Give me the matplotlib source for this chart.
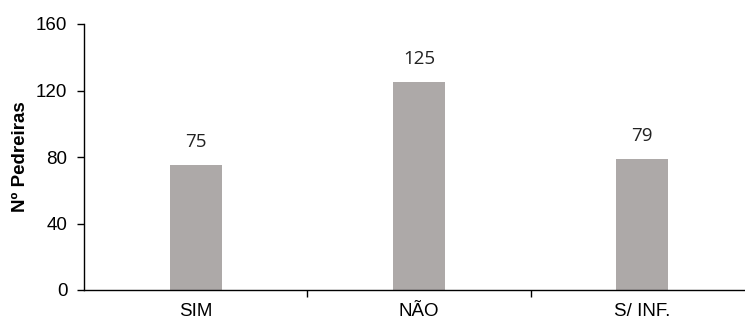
import matplotlib
matplotlib.use("Agg")
import matplotlib.pyplot as plt

categories = ["SIM", "NÃO", "S/ INF."]
counts = [75, 125, 79]
y_ticks = [0, 40, 80, 120, 160]

bar_color = "#ADA9A8"

fig = plt.figure(figsize=(7.45, 3.2), dpi=100)
ax = fig.add_axes([84 / 745, 1 - 290 / 320, (753.75 - 84) / 745, 266 / 320])

x = list(range(len(categories)))
bars = ax.bar(x, counts, width=0.233, color=bar_color, zorder=2)

for xi, v in zip(x, counts):
    ax.annotate(str(v), (xi, v), xytext=(0, 10), textcoords="offset points",
                ha="center", va="bottom", fontsize=13.5, family="Open Sans",
                color="#222222")

ax.set_xlim(-0.5, len(categories) - 0.5)
ax.set_ylim(0, 160)
ax.set_yticks(y_ticks)
ax.set_yticklabels([str(t) for t in y_ticks], family="Liberation Sans", fontsize=13.5)

ax.set_xticks(x)
ax.set_xticklabels(categories, family="Liberation Sans", fontsize=13.5)
ax.tick_params(axis="x", which="major", length=0, pad=9)
ax.set_xticks([i + 0.5 for i in range(len(categories) - 1)], minor=True)
ax.tick_params(axis="x", which="minor", length=5, width=1, direction="out")
ax.tick_params(axis="y", length=5, width=1, direction="out", pad=7)

ax.set_ylabel("Nº Pedreiras", family="Liberation Sans", fontweight="bold",
              fontsize=13.5, labelpad=5)

for s in ("top", "right"):
    ax.spines[s].set_visible(False)
for s in ("left", "bottom"):
    ax.spines[s].set_linewidth(1)

fig.savefig("out.png", dpi=100)
